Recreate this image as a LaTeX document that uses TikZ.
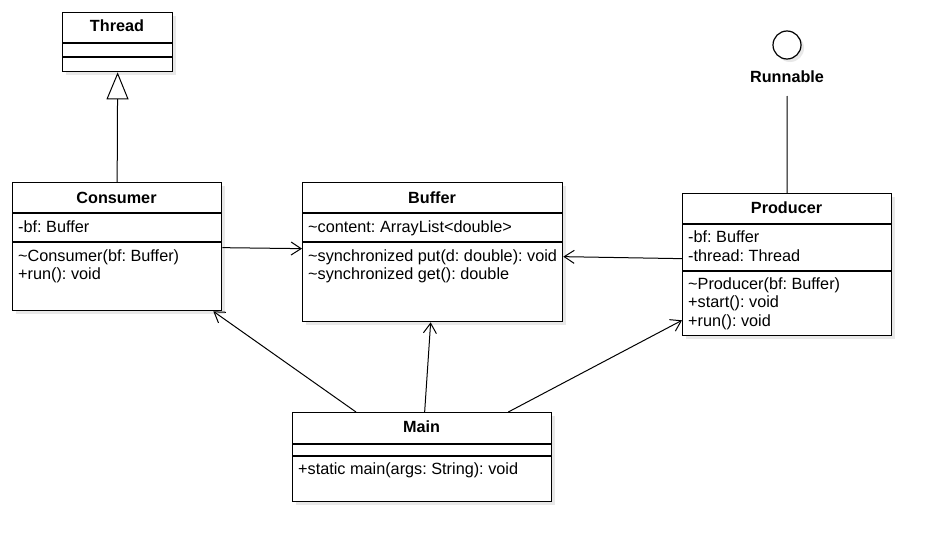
\documentclass[tikz,border=0pt]{standalone}
\usepackage{fontspec}
\setmainfont{Liberation Sans}
\usetikzlibrary{arrows.meta,calc}
\frenchspacing
\begin{document}
\begin{tikzpicture}[x=1pt,y=-1pt,
  box/.style={draw=black, line width=1.3pt, fill=white, rectangle, inner sep=0pt, anchor=north west},
  shadowbox/.style={fill=black!9, draw=none, rectangle, inner sep=0pt, anchor=north west},
  title/.style={font=\fontsize{16.2}{18}\selectfont\bfseries, anchor=base, inner sep=0pt},
  txt/.style={font=\fontsize{16.25}{18}\selectfont, anchor=base west, inner sep=0pt},
  sep/.style={line width=1.3pt},
  conn/.style={line width=1pt, -{Straight Barb[length=10pt,width=13pt]}},
  gen/.style={line width=1pt, -{Triangle[open, length=27pt, width=22pt, fill=white]}},
]
\useasboundingbox[fill=white] (0,0) rectangle (941,551);

% ---------- Thread ----------
\node[shadowbox, minimum width=110pt, minimum height=59pt] at (66,16) {};
\node[box, minimum width=110pt, minimum height=59pt] (thread) at (62,12) {};
\draw[sep] ($(thread.north west)+(0,31)$) -- ($(thread.north east)+(0,31)$);
\draw[sep] ($(thread.north west)+(0,45)$) -- ($(thread.north east)+(0,45)$);
\node[title] (threadT) at (117,32) {Thread};

% ---------- Consumer ----------
\node[shadowbox, minimum width=209pt, minimum height=128pt] at (16,186) {};
\node[box, minimum width=209pt, minimum height=128pt] (consumer) at (12,182) {};
\draw[sep] ($(consumer.north west)+(0,31)$) -- ($(consumer.north east)+(0,31)$);
\draw[sep] ($(consumer.north west)+(0,60)$) -- ($(consumer.north east)+(0,60)$);
\node[title] (consumerT) at (116.5,203) {Consumer};
\node[txt] (consumerA) at (18,232) {-bf: Buffer};
\node[txt] (consumerM1) at (18,261) {\textasciitilde Consumer(bf: Buffer)};
\node[txt] (consumerM2) at (18,279) {+run(): void};

% ---------- Buffer ----------
\node[shadowbox, minimum width=260pt, minimum height=139pt] at (306,186) {};
\node[box, minimum width=260pt, minimum height=139pt] (buffer) at (302,182) {};
\draw[sep] ($(buffer.north west)+(0,31)$) -- ($(buffer.north east)+(0,31)$);
\draw[sep] ($(buffer.north west)+(0,60)$) -- ($(buffer.north east)+(0,60)$);
\node[title] (bufferT) at (432,203) {Buffer};
\node[txt] (bufferA) at (308,232) {\textasciitilde content: ArrayList<double>};
\node[txt] (bufferM1) at (308,261) {\textasciitilde synchronized put(d: double): void};
\node[txt] (bufferM2) at (308,279) {\textasciitilde synchronized get(): double};

% ---------- Producer ----------
\node[shadowbox, minimum width=209pt, minimum height=142pt] at (686,197) {};
\node[box, minimum width=209pt, minimum height=142pt] (producer) at (682,193) {};
\draw[sep] ($(producer.north west)+(0,31)$) -- ($(producer.north east)+(0,31)$);
\draw[sep] ($(producer.north west)+(0,78)$) -- ($(producer.north east)+(0,78)$);
\node[title] (producerT) at (786.5,213) {Producer};
\node[txt] (producerA1) at (688,242) {-bf: Buffer};
\node[txt] (producerA2) at (688,261) {-thread: Thread};
\node[txt] (producerM1) at (688,289) {\textasciitilde Producer(bf: Buffer)};
\node[txt] (producerM2) at (688,307) {+start(): void};
\node[txt] (producerM3) at (688,326) {+run(): void};

% ---------- Main ----------
\node[shadowbox, minimum width=259pt, minimum height=89pt] at (296,416) {};
\node[box, minimum width=259pt, minimum height=89pt] (main) at (292,412) {};
\draw[sep] ($(main.north west)+(0,32)$) -- ($(main.north east)+(0,32)$);
\draw[sep] ($(main.north west)+(0,44)$) -- ($(main.north east)+(0,44)$);
\node[title] (mainT) at (421.5,432) {Main};
\node[txt] (mainM) at (298,474) {+static main(args: String): void};

% ---------- Runnable ----------
\fill[black!9] (790,48) circle (14);
\node[circle, draw=black, line width=1.2pt, fill=white, minimum size=28pt, inner sep=0pt] (runnable) at (787,45) {};
\node[title] (runnableL) at (787,82) {Runnable};

% ---------- Connectors ----------
\draw[gen] (consumer.north) -- (thread.south);
\draw[line width=1pt] (producer.north) -- ([yshift=-14pt]runnableL.base);
\draw[conn] ([yshift=-1pt]consumer.east) -- ([yshift=3.5pt]buffer.west);
\draw[conn] ([yshift=6pt]producer.west) -- ([yshift=-4.5pt]buffer.east);
\draw[conn] ([xshift=64pt]main.north west) -- ([xshift=-9pt]consumer.south east);
\draw[conn] ([xshift=2.5pt]main.north) -- ([xshift=-2pt]buffer.south);
\draw[conn] ([xshift=-44pt]main.north east) -- ([yshift=16pt]producer.south west);
\end{tikzpicture}
\end{document}
